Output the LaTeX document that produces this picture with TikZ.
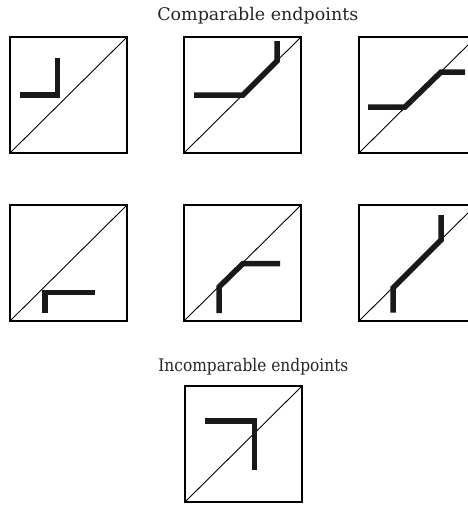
\documentclass[tikz,border=0pt]{standalone}
\usepackage{fontspec}
\setmainfont{DejaVu Serif}
\begin{document}
\begin{tikzpicture}[x=1pt,y=-1pt,
  frame/.style={line width=1.3pt,line join=miter},
  diag/.style={line width=0.9pt},
  track/.style={line width=5.5pt,line join=miter,line cap=butt,draw=black!90},
  caption/.style={inner sep=0pt,anchor=base,text=black!85}]
\useasboundingbox (0,0) rectangle (468,506);
\clip (0,0) rectangle (468,506);
\fill[white] (0,0) rectangle (468,506);
\newcommand\panel[2]{%
  \begin{scope}[shift={(#1)}]
    \draw[frame] (0,0) rectangle (117,116);
    \draw[diag] (0,116) -- (117,0);
    \draw[track] #2;
  \end{scope}}
\node[caption] (t1) at (257.8,20.3) {\resizebox{201pt}{13.2pt}{Comparable endpoints}};
\node[caption] (t2) at (253.4,371) {\resizebox{190pt}{13.2pt}{Incomparable endpoints}};
\panel{10,37}{(10,58) -- (47.5,58) -- (47.5,21)}
\panel{184,37}{(10,58) -- (59,58) -- (93,24) -- (93,4)}
\panel{359,37}{(9,70) -- (46,70) -- (82,35) -- (106,35)}
\panel{10,205}{(35,107.5) -- (35,87.5) -- (85,87.5)}
\panel{184,205}{(35,108) -- (35,82) -- (59,58.5) -- (96,58.5)}
\panel{359,205}{(34,107.5) -- (34,83) -- (82,35) -- (82,10)}
\panel{185,386}{(20,35) -- (69.5,35) -- (69.5,84)}
\end{tikzpicture}
\end{document}
